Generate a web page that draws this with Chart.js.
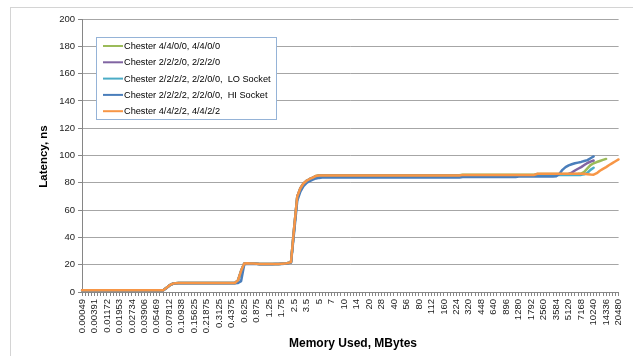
<!DOCTYPE html>
<html>
<head>
<meta charset="utf-8">
<script src="https://cdn.jsdelivr.net/npm/chart.js@4.4.1/dist/chart.umd.min.js"></script>
<style>
  html, body { margin: 0; padding: 0; background: #ffffff; }
  canvas { display: block; }
</style>
</head>
<body>
<canvas id="chart" width="633" height="356"></canvas>
<script>
// Working-set sizes of the latency sweep, in MBytes
const memoryMB = [
  "0.00049","0.00098","0.00195","0.00293","0.00391","0.00586","0.00781","0.00977","0.01172","0.01367",
  "0.01563","0.01758","0.01953","0.02148","0.02344","0.02539","0.02734","0.0293","0.03125","0.03516",
  "0.03906","0.04297","0.04688","0.05078","0.05469","0.05859","0.0625","0.07031","0.07812","0.08594",
  "0.09375","0.10156","0.10938","0.11719","0.125","0.14062","0.15625","0.17188","0.1875","0.20312",
  "0.21875","0.23438","0.25","0.28125","0.3125","0.34375","0.375","0.40625","0.4375","0.46875",
  "0.5","0.5625","0.625","0.6875","0.75","0.8125","0.875","0.9375","1","1.125",
  "1.25","1.375","1.5","1.625","1.75","1.875","2","2.25","2.5","2.75",
  "3","3.25","3.5","3.75","4","4.5","5","5.5","6","6.5",
  "7","7.5","8","9","10","11","12","13","14","15",
  "16","18","20","22","24","26","28","30","32","36",
  "40","44","48","52","56","60","64","72","80","88",
  "96","104","112","120","128","144","160","176","192","208",
  "224","240","256","288","320","352","384","416","448","480",
  "512","576","640","704","768","832","896","960","1024","1152",
  "1280","1408","1536","1664","1792","1920","2048","2304","2560","2816",
  "3072","3328","3584","3840","4096","4608","5120","5632","6144","6656",
  "7168","7680","8192","9216","10240","11264","12288","13312","14336","15360",
  "16384","18432","20480"
];

// Sizes that carry a printed label on the category axis
const xTickLabels = [
  "0.00049","0.00391","0.01172","0.01953","0.02734","0.03906","0.05469","0.07812","0.10938","0.15625",
  "0.21875","0.3125","0.4375","0.625","0.875","1.25","1.75","2.5","3.5","5",
  "7","10","14","20","28","40","56","80","112","160",
  "224","320","448","640","896","1280","1792","2560","3584","5120",
  "7168","10240","14336","20480"
];

const seriesNames = [
  "Chester 4/4/0/0, 4/4/0/0",
  "Chester 2/2/2/0, 2/2/2/0",
  "Chester 2/2/2/2, 2/2/0/0,  LO Socket",
  "Chester 2/2/2/2, 2/2/0/0,  HI Socket",
  "Chester 4/4/2/2, 4/4/2/2"
];

// Load latency in ns for each configuration
const chester4400 = [
  1.2,1.2,1.2,1.2,1.2,1.2,1.2,1.2,1.2,1.2,
  1.2,1.2,1.2,1.2,1.2,1.2,1.2,1.2,1.2,1.2,
  1.2,1.2,1.2,1.2,1.2,1.2,1.3,3.0,4.8,6.0,
  6.5,6.6,6.6,6.6,6.6,6.6,6.6,6.6,6.6,6.6,
  6.6,6.6,6.6,6.6,6.6,6.6,6.6,6.6,6.6,6.6,
  8.5,15.5,20.8,21.0,20.9,20.8,20.7,20.6,20.5,20.5,
  20.5,20.5,20.6,20.6,20.7,20.8,21.2,22.0,47,70,
  76,79.5,81.5,82.8,83.8,85.0,85.5,85.5,85.5,85.5,
  85.5,85.5,85.5,85.5,85.5,85.5,85.5,85.5,85.5,85.5,
  85.5,85.5,85.5,85.5,85.5,85.5,85.5,85.5,85.5,85.5,
  85.5,85.5,85.5,85.5,85.5,85.5,85.5,85.5,85.5,85.5,
  85.5,85.5,85.5,85.5,85.5,85.5,85.5,85.5,85.5,85.5,
  85.5,85.5,85.9,85.9,85.9,85.9,85.9,85.9,85.9,85.9,
  85.9,85.9,85.9,85.9,85.9,85.9,85.9,85.9,85.9,85.9,
  85.9,85.9,85.9,85.9,85.9,85.9,86.5,86.5,86.5,86.5,
  86.5,86.5,86.5,86.5,86.5,86.5,86.5,86.5,86.5,86.6,
  86.8,88.0,90.5,93.0,94.3,95.2,96.0,96.8,97.5
];

const chester2220 = [
  1.2,1.2,1.2,1.2,1.2,1.2,1.2,1.2,1.2,1.2,
  1.2,1.2,1.2,1.2,1.2,1.2,1.2,1.2,1.2,1.2,
  1.2,1.2,1.2,1.2,1.2,1.2,1.3,3.0,4.8,6.0,
  6.5,6.6,6.6,6.6,6.6,6.6,6.6,6.6,6.6,6.6,
  6.6,6.6,6.6,6.6,6.6,6.6,6.6,6.6,6.6,6.6,
  8.5,15.5,20.8,21.0,20.9,20.8,20.7,20.6,20.5,20.5,
  20.5,20.5,20.6,20.6,20.7,20.8,21.2,22.0,47,70,
  76,79.5,81.5,82.8,83.8,84.8,85.1,85.1,85.1,85.1,
  85.1,85.1,85.1,85.1,85.1,85.1,85.1,85.1,85.1,85.1,
  85.1,85.1,85.1,85.1,85.1,85.1,85.1,85.1,85.1,85.1,
  85.1,85.1,85.1,85.1,85.1,85.1,85.1,85.1,85.1,85.1,
  85.1,85.1,85.1,85.1,85.1,85.1,85.1,85.1,85.1,85.1,
  85.1,85.1,85.5,85.5,85.5,85.5,85.5,85.5,85.5,85.5,
  85.5,85.5,85.5,85.5,85.5,85.5,85.5,85.5,85.5,85.5,
  85.5,85.5,85.5,85.5,85.5,85.5,86.2,86.2,86.2,86.2,
  86.2,86.2,86.2,86.2,86.2,86.2,86.5,87.5,89.0,90.3,
  91.5,93.0,94.5,95.5,96.3
];

const chesterLoSocket = [
  1.2,1.2,1.2,1.2,1.2,1.2,1.2,1.2,1.2,1.2,
  1.2,1.2,1.2,1.2,1.2,1.2,1.2,1.2,1.2,1.2,
  1.2,1.2,1.2,1.2,1.2,1.2,1.3,3.0,4.8,6.0,
  6.5,6.6,6.6,6.6,6.6,6.6,6.6,6.6,6.6,6.6,
  6.6,6.6,6.6,6.6,6.6,6.6,6.6,6.6,6.6,6.6,
  8.3,15.0,20.7,21.0,20.9,20.8,20.7,20.6,20.5,20.5,
  20.5,20.5,20.6,20.6,20.7,20.8,21.2,22.0,46,69.5,
  75.5,79.0,81.2,82.5,83.5,84.6,85.0,85.0,85.0,85.0,
  85.0,85.0,85.0,85.0,85.0,85.0,85.0,85.0,85.0,85.0,
  85.0,85.0,85.0,85.0,85.0,85.0,85.0,85.0,85.0,85.0,
  85.0,85.0,85.0,85.0,85.0,85.0,85.0,85.0,85.0,85.0,
  85.0,85.0,85.0,85.0,85.0,85.0,85.0,85.0,85.0,85.0,
  85.0,85.0,85.3,85.3,85.3,85.3,85.3,85.3,85.3,85.3,
  85.3,85.3,85.3,85.3,85.3,85.3,85.3,85.3,85.3,85.3,
  85.3,85.3,85.3,85.3,85.3,85.3,85.8,85.8,85.8,85.8,
  85.8,85.8,85.8,85.8,85.8,85.8,85.8,85.8,85.8,85.8,
  85.8,86.2,87.2,89.5,91.0
];

const chesterHiSocket = [
  1.2,1.2,1.2,1.2,1.2,1.2,1.2,1.2,1.2,1.2,
  1.2,1.2,1.2,1.2,1.2,1.2,1.2,1.2,1.2,1.2,
  1.2,1.2,1.2,1.2,1.2,1.2,1.2,2.8,4.6,5.9,
  6.4,6.5,6.5,6.5,6.5,6.5,6.5,6.5,6.5,6.5,
  6.5,6.5,6.5,6.5,6.5,6.5,6.5,6.5,6.5,6.5,
  6.6,8.0,20.2,20.7,20.6,20.6,20.5,20.4,20.4,20.4,
  20.4,20.4,20.5,20.5,20.6,20.7,21.0,21.6,44,67,
  73.5,77.5,80.0,81.3,82.3,83.2,83.6,83.8,83.8,83.8,
  83.8,83.8,83.8,83.8,83.8,83.8,83.8,83.8,83.8,83.8,
  83.8,83.8,83.8,83.8,83.8,83.8,83.8,83.8,83.8,83.8,
  83.8,83.8,83.8,83.8,83.8,83.8,83.8,83.8,83.8,83.8,
  83.8,83.8,83.8,83.8,83.8,83.8,83.8,83.8,83.8,83.8,
  83.8,83.8,84.2,84.2,84.2,84.2,84.2,84.2,84.2,84.2,
  84.2,84.2,84.2,84.2,84.2,84.2,84.2,84.2,84.2,84.2,
  84.6,84.6,84.6,84.6,84.6,84.6,84.6,84.6,84.6,84.6,
  84.6,84.6,84.8,86.5,89.5,91.5,92.8,93.6,94.3,94.8,
  95.3,96.0,96.6,98.0,99.3
];

const chester4422 = [
  1.2,1.2,1.2,1.2,1.2,1.2,1.2,1.2,1.2,1.2,
  1.2,1.2,1.2,1.2,1.2,1.2,1.2,1.2,1.2,1.2,
  1.2,1.2,1.2,1.2,1.2,1.2,1.3,3.0,4.8,6.0,
  6.5,6.6,6.6,6.6,6.6,6.6,6.6,6.6,6.6,6.6,
  6.6,6.6,6.6,6.6,6.6,6.6,6.6,6.6,6.6,6.6,
  8.5,15.5,20.8,21.0,20.9,20.8,20.7,20.6,20.5,20.5,
  20.5,20.5,20.6,20.6,20.7,20.8,21.2,22.0,47,70,
  76,79.5,81.5,82.8,83.8,85.0,85.3,85.4,85.4,85.4,
  85.4,85.4,85.4,85.4,85.4,85.4,85.4,85.4,85.4,85.4,
  85.4,85.4,85.4,85.4,85.4,85.4,85.4,85.4,85.4,85.4,
  85.4,85.4,85.4,85.4,85.4,85.4,85.4,85.4,85.4,85.4,
  85.4,85.4,85.4,85.4,85.4,85.4,85.4,85.4,85.4,85.4,
  85.4,85.4,85.8,85.8,85.8,85.8,85.8,85.8,85.8,85.8,
  85.8,85.8,85.8,85.8,85.8,85.8,85.8,85.8,85.8,85.8,
  85.8,85.8,85.8,85.8,85.8,85.8,86.6,86.6,86.6,86.6,
  86.6,86.6,86.6,86.6,86.6,86.6,86.6,86.6,86.6,86.6,
  86.6,86.6,86.3,86.0,85.9,87.0,88.8,90.2,91.5,93.0,
  94.4,95.8,97.1
];

const seriesColors = ["#9BBB59", "#8064A2", "#4BACC6", "#4A7EBB", "#F79646"];
const seriesData = [chester4400, chester2220, chesterLoSocket, chesterHiSocket, chester4422];

const FONT = "'Liberation Sans', Arial, sans-serif";

// Light frame around the whole chart area
const framePlugin = {
  id: 'frame',
  beforeDraw(chart) {
    const ctx = chart.ctx;
    ctx.save();
    ctx.fillStyle = '#ffffff';
    ctx.fillRect(0, 0, chart.width, chart.height);
    ctx.strokeStyle = '#d4d4d4';
    ctx.lineWidth = 1;
    ctx.strokeRect(10.5, 7.5, chart.width + 20, chart.height + 20);
    ctx.restore();
  }
};

// Axis titles
const titlesPlugin = {
  id: 'axisTitles',
  afterDraw(chart) {
    const ctx = chart.ctx;
    const area = chart.chartArea;
    ctx.save();
    ctx.fillStyle = '#000000';
    ctx.textAlign = 'center';
    ctx.textBaseline = 'middle';
    ctx.font = "bold 12px " + FONT;
    ctx.fillText("Memory Used, MBytes", 353, 344);
    ctx.translate(44, (area.top + area.bottom) / 2 + 1);
    ctx.rotate(-Math.PI / 2);
    ctx.font = "bold 11.5px " + FONT;
    ctx.fillText("Latency, ns", 0, 0);
    ctx.restore();
  }
};

// Boxed legend inside the plot area
const legendBoxPlugin = {
  id: 'legendBox',
  afterDraw(chart) {
    const ctx = chart.ctx;
    const x0 = 96.5, y0 = 37.5, w = 180, h = 82;
    ctx.save();
    ctx.fillStyle = '#ffffff';
    ctx.fillRect(x0, y0, w, h);
    ctx.strokeStyle = '#95b3d7';
    ctx.lineWidth = 1;
    ctx.strokeRect(x0, y0, w, h);
    ctx.font = "9.2px " + FONT;
    ctx.textBaseline = 'middle';
    ctx.textAlign = 'left';
    seriesNames.forEach((name, i) => {
      const y = 46 + i * 16.3;
      ctx.strokeStyle = seriesColors[i];
      ctx.lineWidth = 2;
      ctx.beginPath();
      ctx.moveTo(103, y);
      ctx.lineTo(123, y);
      ctx.stroke();
      ctx.fillStyle = '#000000';
      ctx.fillText(name, 124, y + 0.5);
    });
    ctx.restore();
  }
};

const datasets = seriesNames.map((name, i) => ({
  label: name,
  data: seriesData[i],
  borderColor: seriesColors[i],
  backgroundColor: seriesColors[i],
  borderWidth: 2.5,
  pointRadius: 0,
  pointHoverRadius: 0,
  fill: false,
  tension: 0,
  borderJoinStyle: 'round',
  borderCapStyle: 'round',
  order: seriesNames.length - 1 - i
}));

new Chart(document.getElementById('chart'), {
  type: 'line',
  data: { labels: memoryMB, datasets },
  options: {
    responsive: false,
    animation: false,
    devicePixelRatio: 1,
    layout: { padding: { top: 19, right: 12, left: 0, bottom: 0 } },
    plugins: {
      legend: { display: false },
      tooltip: { enabled: false }
    },
    scales: {
      x: {
        type: 'category',
        offset: false,
        grid: {
          drawOnChartArea: false,
          drawTicks: true,
          tickLength: 4,
          tickColor: '#868686',
          tickWidth: 1
        },
        border: { color: '#868686', width: 1 },
        ticks: {
          autoSkip: false,
          minRotation: 90,
          maxRotation: 90,
          padding: 3,
          color: '#222222',
          font: { family: FONT, size: 9.5 },
          callback: (value, index) => xTickLabels.includes(memoryMB[index]) ? memoryMB[index] : ''
        },
        afterFit: (scale) => { scale.height = 64; }
      },
      y: {
        min: 0,
        max: 200,
        grid: {
          color: '#a6a6a6',
          lineWidth: 1,
          drawTicks: true,
          tickLength: 4,
          tickColor: '#868686'
        },
        border: { color: '#868686', width: 1 },
        ticks: {
          stepSize: 20,
          padding: 3,
          color: '#222222',
          font: { family: FONT, size: 9.5 }
        },
        afterFit: (scale) => { scale.width = 82; }
      }
    }
  },
  plugins: [framePlugin, titlesPlugin, legendBoxPlugin]
});
</script>
</body>
</html>
